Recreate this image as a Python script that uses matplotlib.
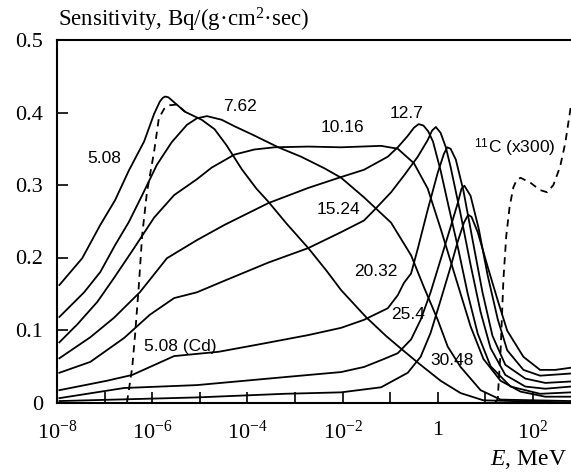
import numpy as np
import matplotlib
matplotlib.use("Agg")
import matplotlib.pyplot as plt
from matplotlib.ticker import FixedLocator, FuncFormatter

plt.rcParams['font.family'] = ['Liberation Serif', 'DejaVu Serif']
plt.rcParams['mathtext.fontset'] = 'custom'
plt.rcParams['mathtext.rm'] = 'Liberation Serif'
plt.rcParams['mathtext.it'] = 'Liberation Serif:italic'
plt.rcParams['mathtext.sf'] = 'Liberation Sans'

# log10(E, MeV) and sensitivity
lg_508 = [-7.95, -7.47, -7.09, -6.78, -6.49, -6.17, -5.96, -5.84, -5.78, -5.73, -5.66, -5.59, -5.45,
          -5.31, -4.96, -4.69, -4.44, -4.12, -3.81, -3.56, -3.18, -2.72, -2.34, -2.03, -1.51, -1.09,
          -0.73, -0.40, 0.06, 0.48, 0.96, 2.80]
s_508 = [0.162, 0.199, 0.245, 0.279, 0.320, 0.360, 0.398, 0.415, 0.420, 0.422, 0.421, 0.417, 0.409,
         0.401, 0.390, 0.377, 0.355, 0.322, 0.295, 0.277, 0.247, 0.213, 0.182, 0.155, 0.118, 0.092,
         0.072, 0.054, 0.030, 0.013, 0.003, 0.0]

lg_762 = [-7.95, -7.43, -7.09, -6.78, -6.49, -6.21, -5.90, -5.59, -5.27, -5.06, -4.85, -4.54, -4.27,
          -3.91, -3.35, -2.87, -2.38, -2.03, -1.55, -0.98, -0.56, -0.29, 0.00, 0.21, 0.48, 0.90,
          1.32, 2.80]
s_762 = [0.118, 0.152, 0.180, 0.217, 0.249, 0.286, 0.328, 0.359, 0.383, 0.392, 0.395, 0.390, 0.381,
         0.370, 0.352, 0.339, 0.323, 0.310, 0.283, 0.248, 0.203, 0.159, 0.114, 0.077, 0.049, 0.017,
         0.004, 0.002]

lg_1016 = [-7.95, -7.57, -7.15, -6.80, -6.38, -5.96, -5.54, -5.06, -4.75, -4.27, -3.85, -3.43, -2.72,
           -2.03, -1.19, -0.84, -0.50, -0.21, 0.06, 0.27, 0.48, 0.69, 0.96, 1.32, 1.74, 2.26, 2.80]
s_1016 = [0.083, 0.108, 0.139, 0.172, 0.213, 0.255, 0.286, 0.308, 0.324, 0.342, 0.349, 0.352, 0.353,
          0.352, 0.354, 0.350, 0.330, 0.295, 0.240, 0.195, 0.150, 0.105, 0.060, 0.030, 0.015, 0.008,
          0.008]

lg_127 = [-7.95, -7.30, -6.80, -6.26, -5.69, -5.06, -4.48, -3.56, -2.72, -2.03, -1.55, -1.05, -0.84,
          -0.64, -0.50, -0.40, -0.30, -0.20, -0.10, 0.06, 0.23, 0.42, 0.63, 0.84, 1.11, 1.53, 2.15,
          2.80]
s_127 = [0.061, 0.090, 0.117, 0.152, 0.199, 0.224, 0.245, 0.275, 0.296, 0.311, 0.321, 0.339, 0.352,
         0.367, 0.379, 0.384, 0.382, 0.374, 0.360, 0.320, 0.270, 0.215, 0.150, 0.095, 0.050, 0.022,
         0.012, 0.014]

lg_1524 = [-7.95, -7.30, -6.59, -6.05, -5.54, -5.06, -4.48, -3.56, -2.72, -2.03, -1.55, -1.34, -0.98,
           -0.71, -0.42, -0.21, -0.12, -0.04, 0.06, 0.17, 0.27, 0.48, 0.69, 0.90, 1.11, 1.42, 1.84,
           2.26, 2.80]
s_1524 = [0.041, 0.056, 0.089, 0.121, 0.144, 0.152, 0.168, 0.193, 0.213, 0.235, 0.251, 0.265, 0.290,
          0.313, 0.339, 0.362, 0.375, 0.380, 0.372, 0.352, 0.325, 0.260, 0.190, 0.125, 0.075, 0.038,
          0.022, 0.019, 0.022]

lg_2032 = [-7.95, -6.95, -6.42, -5.54, -4.60, -3.77, -2.72, -2.03, -1.55, -1.05, -0.84, -0.71, -0.56,
           -0.42, -0.21, 0.00, 0.13, 0.20, 0.27, 0.38, 0.54, 0.73, 0.94, 1.15, 1.42, 1.84, 2.26, 2.80]
s_2032 = [0.017, 0.030, 0.038, 0.064, 0.070, 0.080, 0.093, 0.103, 0.114, 0.130, 0.148, 0.165, 0.178,
          0.212, 0.266, 0.317, 0.343, 0.352, 0.350, 0.335, 0.292, 0.225, 0.152, 0.092, 0.052, 0.033,
          0.027, 0.029]

lg_254 = [-7.95, -6.59, -5.06, -3.22, -2.03, -1.55, -1.13, -0.84, -0.56, -0.36, -0.15, 0.06, 0.27,
          0.42, 0.50, 0.56, 0.69, 0.86, 1.05, 1.26, 1.46, 1.80, 2.15, 2.80]
s_254 = [0.006, 0.020, 0.024, 0.035, 0.042, 0.049, 0.060, 0.068, 0.087, 0.114, 0.152, 0.197, 0.242,
         0.275, 0.295, 0.299, 0.285, 0.240, 0.175, 0.115, 0.072, 0.045, 0.037, 0.040]

lg_3048 = [-7.95, -5.06, -3.22, -2.03, -1.19, -0.63, -0.36, -0.15, 0.06, 0.27, 0.42, 0.55, 0.64, 0.71,
           0.84, 1.05, 1.26, 1.46, 1.80, 2.15, 2.47, 2.80]
s_3048 = [0.002, 0.007, 0.012, 0.014, 0.021, 0.041, 0.063, 0.096, 0.141, 0.187, 0.222, 0.248, 0.259,
          0.256, 0.235, 0.187, 0.141, 0.099, 0.063, 0.045, 0.045, 0.048]

# 5.08 with Cd cover (dashed)
lg_cd = [-6.53, -6.42, -6.36, -6.28, -6.21, -6.11, -5.96, -5.86, -5.75, -5.63, -5.48, -5.31]
s_cd = [0.0, 0.048, 0.093, 0.162, 0.231, 0.290, 0.346, 0.392, 0.405, 0.410, 0.411, 0.401]

# 11C activation (x300), dashed
lg_c11 = [1.21, 1.26, 1.32, 1.38, 1.44, 1.51, 1.59, 1.66, 1.74, 1.95, 2.15, 2.30, 2.43, 2.57, 2.68,
          2.80]
s_c11 = [0.0, 0.005, 0.070, 0.170, 0.230, 0.270, 0.297, 0.307, 0.310, 0.303, 0.293, 0.290, 0.300,
         0.325, 0.358, 0.410]

solid = [(lg_508, s_508), (lg_762, s_762), (lg_1016, s_1016), (lg_127, s_127), (lg_1524, s_1524),
         (lg_2032, s_2032), (lg_254, s_254), (lg_3048, s_3048)]

labels = ["5.08", "7.62", "10.16", "12.7", "15.24", "20.32", "25.4", "30.48", "5.08 (Cd)",
          r"$^{\mathsf{11}}$C (x300)"]
label_lg = [-7.01, -4.16, -2.01, -0.65, -2.09, -1.30, -0.63, 0.31, -5.42, 1.61]
label_s = [0.337, 0.408, 0.379, 0.399, 0.266, 0.180, 0.121, 0.058, 0.077, 0.351]

fig = plt.figure(figsize=(5.71, 4.72), dpi=100)
ax = fig.add_axes([57 / 571, 69.5 / 472, 514 / 571, 362.5 / 472])

for lg, s in solid:
    ax.plot(10.0 ** np.array(lg), s, color='black', lw=1.3, solid_joinstyle='round')
ax.plot(10.0 ** np.array(lg_cd), s_cd, color='black', lw=1.3, dashes=(4, 3))
ax.plot(10.0 ** np.array(lg_c11), s_c11, color='black', lw=1.3, dashes=(4, 3))

for t, lg, s in zip(labels, label_lg, label_s):
    ax.text(10.0 ** lg, s, t, family=['Liberation Sans'], fontsize=12.5, ha='center', va='center')

ax.set_xscale('log')
ax.set_xlim(1e-8, 10 ** 2.8)
ax.set_ylim(0, 0.5)

ax.xaxis.set_major_locator(FixedLocator([10.0 ** k for k in range(-8, 3)]))
ax.xaxis.set_minor_locator(FixedLocator([]))


def xfmt(x, pos):
    k = int(round(np.log10(x)))
    if k % 2:
        return ""
    if k == 0:
        return "1"
    return r"$10^{%d}$" % k


ax.xaxis.set_major_formatter(FuncFormatter(xfmt))
ax.set_yticks([0, 0.1, 0.2, 0.3, 0.4, 0.5])
ax.yaxis.set_major_formatter(FuncFormatter(lambda y, p: "0" if y == 0 else "%.1f" % y))
ax.tick_params(direction='in', length=8, width=1.2, labelsize=16)
ax.tick_params(axis='x', pad=13)
ax.tick_params(axis='y', pad=10)

ax.spines['right'].set_visible(False)
for sp in ['left', 'top', 'bottom']:
    ax.spines[sp].set_linewidth(1.5)

fig.text(58 / 571, 1 - 26 / 472, "Sensitivity, Bq/(g·cm$^2$·sec)", fontsize=16.5, ha='left',
         va='baseline')
fig.text(567 / 571, 1 - 465 / 472, r"$E$, MeV", fontsize=17, ha='right', va='baseline')

fig.savefig("out.png", dpi=100)
